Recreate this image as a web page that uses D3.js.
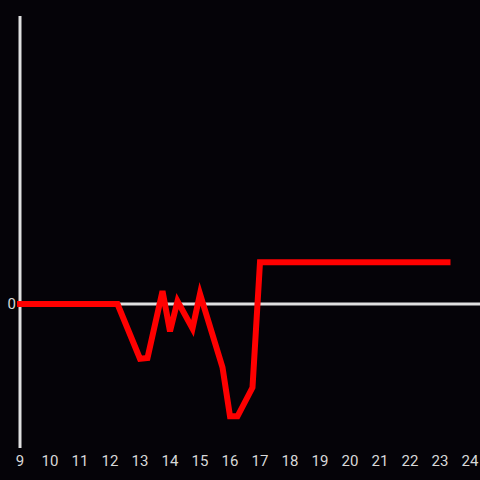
<!DOCTYPE html>
<html>
<head>
<meta charset="utf-8">
<script src="https://cdn.jsdelivr.net/npm/d3@7"></script>
<style>
  html, body { margin: 0; padding: 0; background: #050308; }
  svg { display: block; }
</style>
</head>
<body>
<script>
// hours of the day and the value at each one
const hours  = [9, 12.25, 13, 13.25, 13.75, 14, 14.25, 14.75, 15, 15.75, 16, 16.25, 16.75, 17, 23.25];
const values = [0, 0, -0.38, -0.375, 0.09, -0.19, 0.02, -0.17, 0.07, -0.44, -0.78, -0.78, -0.58, 0.29, 0.29];
const xTicks = d3.range(9, 25);
const yTicks = [0];

const width = 480;
const height = 480;

const xScale = d3.scaleLinear()
                 .domain([9, 24])
                 .range([20, 470]);

const yScale = d3.scaleLinear()
                 .domain([-1, 2])
                 .range([448, 16]);

const svg = d3.select('body')
              .append('svg')
              .attr('width', width)
              .attr('height', height);

svg.append('rect')
   .attr('width', width)
   .attr('height', height)
   .attr('fill', '#050308');

// y axis line
svg.append('line')
   .attr('x1', xScale(9)).attr('x2', xScale(9))
   .attr('y1', yScale(2)).attr('y2', yScale(-1))
   .attr('stroke', '#e0e0e0')
   .attr('stroke-width', 3);

// zero line
svg.append('g')
   .selectAll('line')
   .data(yTicks)
   .join('line')
   .attr('x1', xScale(9))
   .attr('x2', width)
   .attr('y1', d => yScale(d))
   .attr('y2', d => yScale(d))
   .attr('stroke', '#e0e0e0')
   .attr('stroke-width', 3);

svg.append('g')
   .selectAll('text')
   .data(yTicks)
   .join('text')
   .attr('x', xScale(9) - 4)
   .attr('y', d => yScale(d))
   .attr('dy', '0.35em')
   .attr('text-anchor', 'end')
   .attr('fill', '#d8d8d8')
   .attr('font-family', 'Roboto, sans-serif')
   .attr('font-size', 15)
   .text(d => d);

// x tick labels
svg.append('g')
   .selectAll('text')
   .data(xTicks)
   .join('text')
   .attr('x', d => xScale(d))
   .attr('y', 461)
   .attr('dy', '0.35em')
   .attr('text-anchor', 'middle')
   .attr('fill', '#d8d8d8')
   .attr('font-family', 'Roboto, sans-serif')
   .attr('font-size', 15)
   .text(d => d);

// the red series
const line = d3.line()
               .x((d, i) => xScale(hours[i]))
               .y(d => yScale(d));

svg.append('path')
   .datum(values)
   .attr('d', line)
   .attr('fill', 'none')
   .attr('stroke', '#ff0000')
   .attr('stroke-width', 6)
   .attr('stroke-linecap', 'square')
   .attr('stroke-linejoin', 'miter');
</script>
</body>
</html>
